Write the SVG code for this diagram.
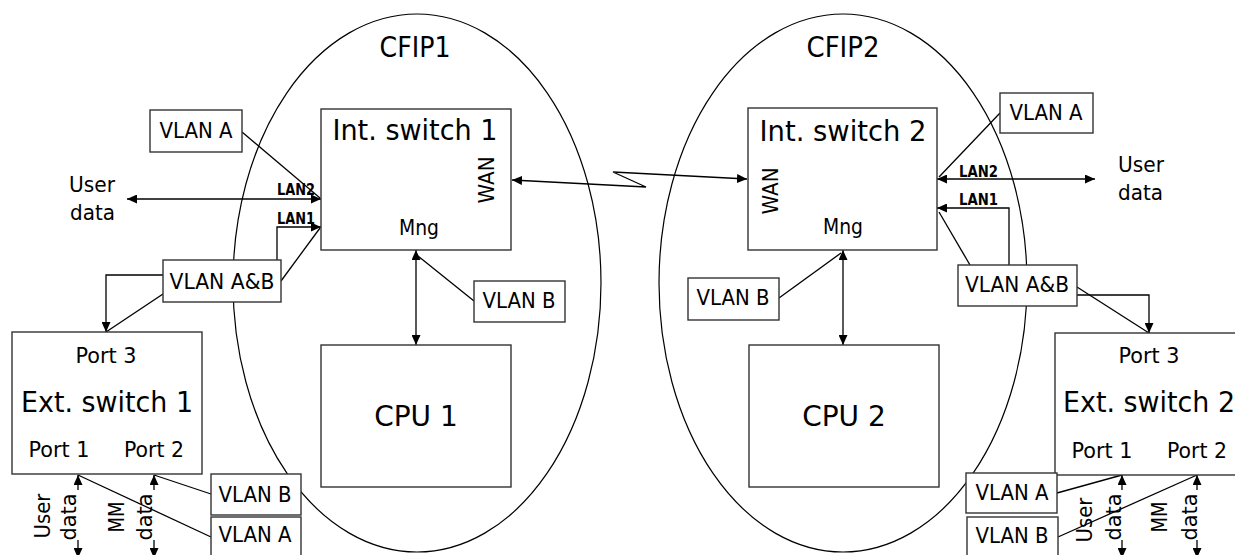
<svg xmlns="http://www.w3.org/2000/svg" width="1235" height="555" viewBox="0 0 1235 555">
<style>
text{font-family:"DejaVu Sans","Liberation Sans",sans-serif;fill:#000}
.box{fill:#fff;stroke:#333;stroke-width:1.4}
.ell{fill:none;stroke:#000;stroke-width:1.2}
.ln{fill:none;stroke:#000;stroke-width:1.3}
.big{font-size:28px}
.mid{font-size:22px}
.sm{font-size:20.5px}
.lan{font-size:15px;font-weight:bold}
.c{text-anchor:middle}
</style>
<defs>
<marker id="ah" viewBox="0 0 10 9" refX="10" refY="4.5" markerWidth="10" markerHeight="9" markerUnits="userSpaceOnUse" orient="auto-start-reverse"><path d="M0,0L10,4.5L0,9z" fill="#000"/></marker>
</defs>
<rect width="1235" height="555" fill="#fff"/>

<g id="cfip1"><ellipse class="ell" cx="417" cy="283" rx="184" ry="269"/><text x="415" y="57" class="c" font-size="28" textLength="71" lengthAdjust="spacingAndGlyphs">CFIP1</text></g>
<g id="cfip2"><ellipse class="ell" cx="843" cy="283" rx="184" ry="269"/><text x="843" y="57" class="c" font-size="28" textLength="73" lengthAdjust="spacingAndGlyphs">CFIP2</text></g>

<g id="connectors">
<line class="ln" x1="127" y1="199" x2="321" y2="199" marker-start="url(#ah)" marker-end="url(#ah)"/>
<polyline class="ln" points="277,260 277,227 321,227" marker-end="url(#ah)"/>
<line class="ln" x1="242" y1="132" x2="320" y2="198"/>
<line class="ln" x1="281" y1="281" x2="320" y2="228"/>
<polyline class="ln" points="163,275 106,275 106,332" marker-end="url(#ah)"/>
<line class="ln" x1="163" y1="294" x2="106" y2="332"/>
<line class="ln" x1="416" y1="250" x2="416" y2="345" marker-start="url(#ah)" marker-end="url(#ah)"/>
<line class="ln" x1="474" y1="301" x2="418" y2="256"/>
<polyline class="ln" points="512,180 646,187 613,172 747,179" marker-start="url(#ah)" marker-end="url(#ah)"/>
<line class="ln" x1="843" y1="250" x2="843" y2="345" marker-start="url(#ah)" marker-end="url(#ah)"/>
<line class="ln" x1="779" y1="298" x2="841" y2="253"/>
<line class="ln" x1="937" y1="179" x2="1095" y2="179" marker-start="url(#ah)" marker-end="url(#ah)"/>
<polyline class="ln" points="1009,265 1009,208 937,208" marker-end="url(#ah)"/>
<line class="ln" x1="1000" y1="113" x2="939" y2="177"/>
<line class="ln" x1="970" y1="265" x2="939" y2="212"/>
<polyline class="ln" points="1077,295 1149,295 1149,333" marker-end="url(#ah)"/>
<line class="ln" x1="1077" y1="287" x2="1149" y2="333"/>
<line class="ln" x1="78" y1="490" x2="78" y2="475" marker-end="url(#ah)"/>
<line class="ln" x1="78" y1="540" x2="78" y2="558" marker-end="url(#ah)"/>
<line class="ln" x1="154" y1="490" x2="154" y2="475" marker-end="url(#ah)"/>
<line class="ln" x1="154" y1="540" x2="154" y2="558" marker-end="url(#ah)"/>
<line class="ln" x1="1122" y1="490" x2="1122" y2="475" marker-end="url(#ah)"/>
<line class="ln" x1="1122" y1="540" x2="1122" y2="558" marker-end="url(#ah)"/>
<line class="ln" x1="1197" y1="490" x2="1197" y2="475" marker-end="url(#ah)"/>
<line class="ln" x1="1197" y1="540" x2="1197" y2="558" marker-end="url(#ah)"/>
<line class="ln" x1="78" y1="475" x2="211" y2="537"/>
<line class="ln" x1="154" y1="475" x2="211" y2="494"/>
<line class="ln" x1="1057" y1="493" x2="1122" y2="475"/>
<line class="ln" x1="1058" y1="537" x2="1197" y2="475"/>
</g>

<g id="labels">
<text x="69" y="192" class="mid" textLength="46" lengthAdjust="spacingAndGlyphs">User</text>
<text x="70" y="220" class="mid" textLength="45" lengthAdjust="spacingAndGlyphs">data</text>
<text x="1118" y="172" class="mid" textLength="46" lengthAdjust="spacingAndGlyphs">User</text>
<text x="1118" y="200" class="mid" textLength="45" lengthAdjust="spacingAndGlyphs">data</text>
<text x="277" y="195" class="lan" textLength="38" lengthAdjust="spacingAndGlyphs">LAN2</text>
<text x="277" y="224" class="lan" textLength="38" lengthAdjust="spacingAndGlyphs">LAN1</text>
<text x="959" y="177" class="lan" textLength="39" lengthAdjust="spacingAndGlyphs">LAN2</text>
<text x="959" y="205" class="lan" textLength="39" lengthAdjust="spacingAndGlyphs">LAN1</text>
<text transform="translate(50,516) rotate(-90)" class="mid c" textLength="45" lengthAdjust="spacingAndGlyphs">User</text>
<text transform="translate(76,517) rotate(-90)" class="mid c" textLength="47" lengthAdjust="spacingAndGlyphs">data</text>
<text transform="translate(124,517) rotate(-90)" class="mid c" textLength="31" lengthAdjust="spacingAndGlyphs">MM</text>
<text transform="translate(152,517) rotate(-90)" class="mid c" textLength="47" lengthAdjust="spacingAndGlyphs">data</text>
<text transform="translate(1092,520) rotate(-90)" class="mid c" textLength="45" lengthAdjust="spacingAndGlyphs">User</text>
<text transform="translate(1121,517) rotate(-90)" class="mid c" textLength="47" lengthAdjust="spacingAndGlyphs">data</text>
<text transform="translate(1167,517) rotate(-90)" class="mid c" textLength="31" lengthAdjust="spacingAndGlyphs">MM</text>
<text transform="translate(1197,517) rotate(-90)" class="mid c" textLength="47" lengthAdjust="spacingAndGlyphs">data</text>
</g>

<g id="int-switch-1"><rect class="box" x="321" y="109" width="190" height="141"/>
<text x="415" y="140" class="big c" textLength="165" lengthAdjust="spacingAndGlyphs">Int. switch 1</text>
<text x="419" y="235" class="sm c" textLength="40" lengthAdjust="spacingAndGlyphs">Mng</text>
<text transform="translate(494,180) rotate(-90)" class="sm c" textLength="47" lengthAdjust="spacingAndGlyphs">WAN</text></g>

<g id="int-switch-2"><rect class="box" x="748" y="108" width="189" height="142"/>
<text x="843" y="141" class="big c" textLength="167" lengthAdjust="spacingAndGlyphs">Int. switch 2</text>
<text x="843" y="234" class="sm c" textLength="40" lengthAdjust="spacingAndGlyphs">Mng</text>
<text transform="translate(778,191) rotate(-90)" class="sm c" textLength="47" lengthAdjust="spacingAndGlyphs">WAN</text></g>

<g id="cpu-1"><rect class="box" x="321" y="345" width="190" height="142"/><text x="416" y="426" class="big c">CPU 1</text></g>
<g id="cpu-2"><rect class="box" x="749" y="345" width="190" height="142"/><text x="844" y="426" class="big c">CPU 2</text></g>

<g id="ext-switch-1"><rect class="box" x="12" y="332" width="190" height="142"/>
<text x="106" y="363" class="mid c" textLength="61" lengthAdjust="spacingAndGlyphs">Port 3</text>
<text x="107" y="412" class="big c" textLength="172" lengthAdjust="spacingAndGlyphs">Ext. switch 1</text>
<text x="59" y="457" class="mid c" textLength="61" lengthAdjust="spacingAndGlyphs">Port 1</text>
<text x="154" y="457" class="mid c" textLength="60" lengthAdjust="spacingAndGlyphs">Port 2</text></g>

<g id="ext-switch-2"><rect class="box" x="1055" y="333" width="190" height="142"/>
<text x="1149" y="363" class="mid c" textLength="61" lengthAdjust="spacingAndGlyphs">Port 3</text>
<text x="1063" y="412" class="big" textLength="172" lengthAdjust="spacingAndGlyphs">Ext. switch 2</text>
<text x="1102" y="458" class="mid c" textLength="61" lengthAdjust="spacingAndGlyphs">Port 1</text>
<text x="1197" y="458" class="mid c" textLength="60" lengthAdjust="spacingAndGlyphs">Port 2</text></g>

<g id="vlan-a-1"><rect class="box" x="150" y="110" width="92" height="42"/><text x="196" y="138" class="mid c" textLength="73" lengthAdjust="spacingAndGlyphs">VLAN A</text></g>
<g id="vlan-ab-1"><rect class="box" x="163" y="260" width="118" height="42"/><text x="222" y="289" class="mid c" textLength="105" lengthAdjust="spacingAndGlyphs">VLAN A&amp;B</text></g>
<g id="vlan-b-1"><rect class="box" x="474" y="281" width="91" height="41"/><text x="519" y="308" class="mid c" textLength="73" lengthAdjust="spacingAndGlyphs">VLAN B</text></g>
<g id="vlan-b-2"><rect class="box" x="688" y="278" width="91" height="42"/><text x="733" y="305" class="mid c" textLength="73" lengthAdjust="spacingAndGlyphs">VLAN B</text></g>
<g id="vlan-a-2"><rect class="box" x="1000" y="93" width="93" height="40"/><text x="1046" y="120" class="mid c" textLength="73" lengthAdjust="spacingAndGlyphs">VLAN A</text></g>
<g id="vlan-ab-2"><rect class="box" x="958" y="265" width="119" height="41"/><text x="1017" y="292" class="mid c" textLength="104" lengthAdjust="spacingAndGlyphs">VLAN A&amp;B</text></g>
<g id="vlan-b-3"><rect class="box" x="211" y="474" width="90" height="41"/><text x="255" y="502" class="mid c" textLength="73" lengthAdjust="spacingAndGlyphs">VLAN B</text></g>
<g id="vlan-a-3"><rect class="box" x="211" y="517" width="90" height="42"/><text x="255" y="542" class="mid c" textLength="73" lengthAdjust="spacingAndGlyphs">VLAN A</text></g>
<g id="vlan-a-4"><rect class="box" x="966" y="473" width="91" height="40"/><text x="1012" y="500" class="mid c" textLength="73" lengthAdjust="spacingAndGlyphs">VLAN A</text></g>
<g id="vlan-b-4"><rect class="box" x="967" y="517" width="91" height="42"/><text x="1012" y="543" class="mid c" textLength="73" lengthAdjust="spacingAndGlyphs">VLAN B</text></g>
</svg>
